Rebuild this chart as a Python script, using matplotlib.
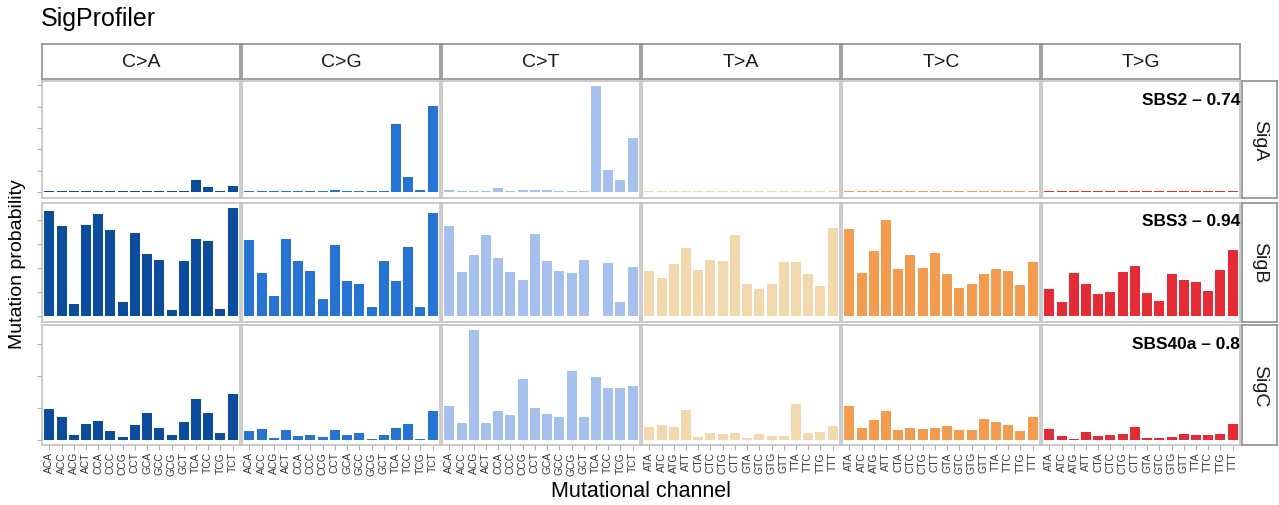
import matplotlib
matplotlib.use("Agg")
import matplotlib.pyplot as plt
from matplotlib.ticker import MultipleLocator
import numpy as np

plt.rcParams['font.family'] = ['Liberation Sans', 'DejaVu Sans']

# mutation classes and trinucleotide contexts
mut_types = ['C>A', 'C>G', 'C>T', 'T>A', 'T>C', 'T>G']
ctx_C = ['ACA', 'ACC', 'ACG', 'ACT', 'CCA', 'CCC', 'CCG', 'CCT',
         'GCA', 'GCC', 'GCG', 'GCT', 'TCA', 'TCC', 'TCG', 'TCT']
ctx_T = ['ATA', 'ATC', 'ATG', 'ATT', 'CTA', 'CTC', 'CTG', 'CTT',
         'GTA', 'GTC', 'GTG', 'GTT', 'TTA', 'TTC', 'TTG', 'TTT']
colors = ['#0B4C9C', '#2574D3', '#A5C0ED', '#F1D9AD', '#F39C50', '#E52B36']

sig_names = ['SigA', 'SigB', 'SigC']
best_match = ['SBS2 \u2013 0.74', 'SBS3 \u2013 0.94', 'SBS40a \u2013 0.8']

# values per signature, 16 per mutation class (C>A, C>G, C>T, T>A, T>C, T>G)
sigA = [0.003, 0.002, 0.002, 0.002, 0.003, 0.002, 0.002, 0.002, 0.002, 0.002, 0.002, 0.002, 0.028, 0.012, 0.003, 0.015,
        0.003, 0.002, 0.002, 0.003, 0.003, 0.002, 0.002, 0.005, 0.002, 0.002, 0.002, 0.003, 0.160, 0.035, 0.005, 0.201,
        0.005, 0.003, 0.003, 0.003, 0.010, 0.003, 0.005, 0.005, 0.005, 0.003, 0.003, 0.003, 0.248, 0.051, 0.028, 0.128,
        0.002, 0.002, 0.002, 0.002, 0.002, 0.002, 0.002, 0.002, 0.002, 0.002, 0.002, 0.002, 0.002, 0.002, 0.002, 0.002,
        0.002, 0.002, 0.002, 0.002, 0.002, 0.002, 0.003, 0.002, 0.002, 0.002, 0.002, 0.002, 0.002, 0.002, 0.002, 0.002,
        0.002, 0.002, 0.002, 0.002, 0.002, 0.002, 0.002, 0.002, 0.002, 0.002, 0.002, 0.002, 0.002, 0.002, 0.002, 0.002]
sigB = [0.0220, 0.0189, 0.0026, 0.0191, 0.0214, 0.0179, 0.0029, 0.0174, 0.0129, 0.0118, 0.0012, 0.0116, 0.0162, 0.0156, 0.0014, 0.0226,
        0.0160, 0.0091, 0.0043, 0.0162, 0.0116, 0.0095, 0.0035, 0.0149, 0.0074, 0.0068, 0.0020, 0.0116, 0.0074, 0.0145, 0.0020, 0.0216,
        0.0188, 0.0092, 0.0127, 0.0170, 0.0122, 0.0093, 0.0075, 0.0172, 0.0115, 0.0094, 0.0090, 0.0117, 0.0001, 0.0110, 0.0029, 0.0102,
        0.0094, 0.0079, 0.0108, 0.0142, 0.0096, 0.0118, 0.0115, 0.0169, 0.0067, 0.0056, 0.0067, 0.0113, 0.0113, 0.0088, 0.0063, 0.0183,
        0.0181, 0.0090, 0.0135, 0.0200, 0.0098, 0.0127, 0.0100, 0.0131, 0.0088, 0.0058, 0.0067, 0.0088, 0.0098, 0.0094, 0.0065, 0.0113,
        0.0056, 0.0029, 0.0090, 0.0067, 0.0046, 0.0050, 0.0092, 0.0104, 0.0048, 0.0031, 0.0088, 0.0075, 0.0071, 0.0052, 0.0096, 0.0138]
sigC = [0.0189, 0.0139, 0.0027, 0.0096, 0.0114, 0.0052, 0.0014, 0.0089, 0.0164, 0.0071, 0.0027, 0.0108, 0.0252, 0.0164, 0.0039, 0.0289,
        0.0052, 0.0064, 0.0008, 0.0058, 0.0021, 0.0027, 0.0014, 0.0058, 0.0027, 0.0039, 0.0002, 0.0027, 0.0071, 0.0096, 0.0003, 0.0177,
        0.0214, 0.0104, 0.0686, 0.0104, 0.0179, 0.0154, 0.0379, 0.0198, 0.0161, 0.0142, 0.0429, 0.0142, 0.0392, 0.0323, 0.0323, 0.0336,
        0.0079, 0.0092, 0.0079, 0.0186, 0.0017, 0.0039, 0.0033, 0.0039, 0.0011, 0.0033, 0.0021, 0.0021, 0.0221, 0.0039, 0.0046, 0.0086,
        0.0211, 0.0073, 0.0123, 0.0179, 0.0061, 0.0073, 0.0067, 0.0073, 0.0086, 0.0061, 0.0061, 0.0129, 0.0111, 0.0092, 0.0054, 0.0142,
        0.0067, 0.0023, 0.0004, 0.0046, 0.0023, 0.0029, 0.0033, 0.0079, 0.0011, 0.0011, 0.0017, 0.0033, 0.0029, 0.0029, 0.0033, 0.0098]
tick_step = [0.05, 0.005, 0.02]

W, H = 1279, 506
fig = plt.figure(figsize=(W / 100, H / 100), dpi=100)


def box(x0, y0, x1, y1):
    # pixel box (top-left origin) -> figure fraction
    return [x0 / W, 1 - y1 / H, (x1 - x0) / W, (y1 - y0) / H]


col_x = [42 + 200 * k for k in range(6)]
col_w = 198
row_y = [(82, 198.5), (203.5, 322.5), (326, 446)]
panel_edge = '#C2C2C2'
strip_edge = '#8F8F8F'

for r, vals in enumerate([sigA, sigB, sigC]):
    vals = np.array(vals)
    top = vals.max()
    for c in range(6):
        y0, y1 = row_y[r]
        ax = fig.add_axes(box(col_x[c], y0, col_x[c] + col_w, y1))
        v = vals[16 * c:16 * (c + 1)]
        ax.bar(np.arange(16), v, width=0.82, color=colors[c])
        ax.set_xlim(-0.6, 15.6)
        ax.set_ylim(-0.05 * top, 1.05 * top)
        ax.yaxis.set_major_locator(MultipleLocator(tick_step[r]))
        for s in ax.spines.values():
            s.set_color(panel_edge)
            s.set_linewidth(1.2)
        ax.tick_params(color='#B0B0B0', length=3.5, width=0.8)
        ax.set_yticklabels([])
        if c > 0:
            ax.tick_params(axis='y', left=False)
        ax.set_xticks(np.arange(16))
        if r == 2:
            ax.set_xticklabels(ctx_C if c < 3 else ctx_T, rotation=90,
                               fontsize=7.4, color='#333333')
            ax.tick_params(axis='x', pad=1.0)
        else:
            ax.tick_params(axis='x', bottom=False, labelbottom=False)
        if c == 5:
            ax.text(1.0, 0.845, best_match[r], transform=ax.transAxes,
                    ha='right', va='center', fontsize=12.5, fontweight='bold')

    # right strip
    sx = fig.add_axes(box(1242, row_y[r][0], 1277, row_y[r][1]))
    sx.set_xticks([])
    sx.set_yticks([])
    for s in sx.spines.values():
        s.set_color(strip_edge)
        s.set_linewidth(1.2)
    sx.text(0.5, 0.5, sig_names[r], rotation=270, ha='center', va='center',
            fontsize=14, color='#1A1A1A', transform=sx.transAxes)

# top strips
for c in range(6):
    sx = fig.add_axes(box(col_x[c], 45, col_x[c] + col_w, 79.5))
    sx.set_xticks([])
    sx.set_yticks([])
    for s in sx.spines.values():
        s.set_color(strip_edge)
        s.set_linewidth(1.2)
    sx.text(0.5, 0.5, mut_types[c], ha='center', va='center',
            fontsize=14, color='#1A1A1A', transform=sx.transAxes)

fig.text(41 / W, 1 - 19 / H, 'SigProfiler', fontsize=18, ha='left', va='center')
fig.text(18 / W, 1 - 264 / H, 'Mutation probability', fontsize=14,
         rotation=90, ha='center', va='center')
fig.text(641 / W, 1 - 492 / H, 'Mutational channel', fontsize=15.5,
         ha='center', va='center')

fig.savefig('out.png', dpi=100)
